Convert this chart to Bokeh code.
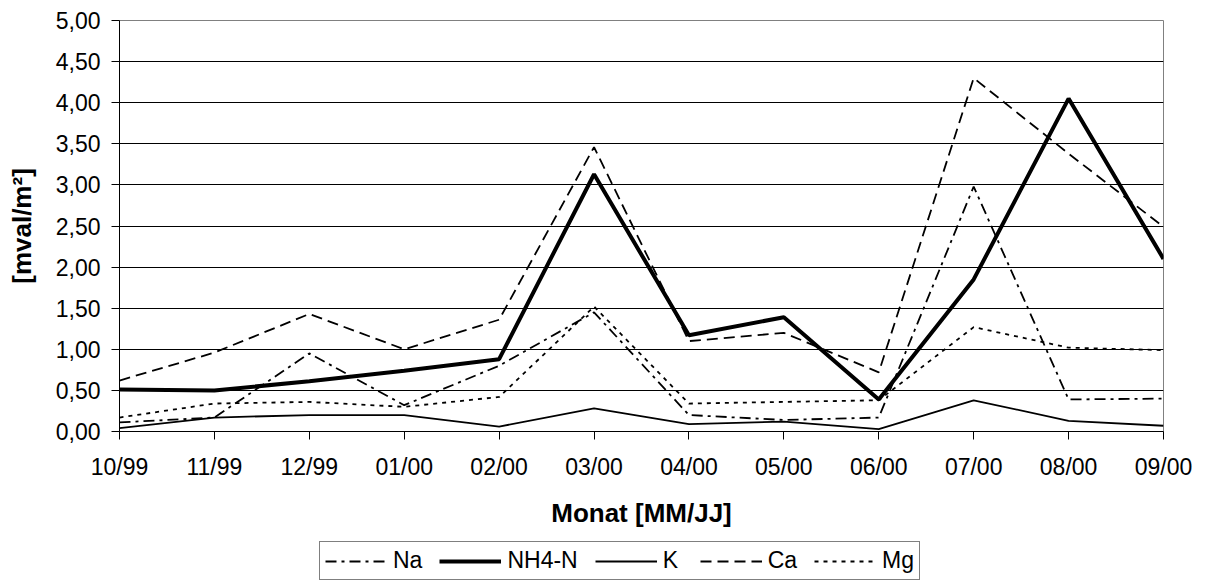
from bokeh.plotting import figure
from bokeh.layouts import column
from bokeh.models import FixedTicker, Legend, LegendItem, Range1d, ColumnDataSource
from bokeh.embed import file_html
from bokeh.resources import INLINE

months = ["10/99", "11/99", "12/99", "01/00", "02/00", "03/00",
          "04/00", "05/00", "06/00", "07/00", "08/00", "09/00"]
na  = [0.11, 0.17, 0.95, 0.32, 0.80, 1.45, 0.20, 0.14, 0.17, 2.98, 0.39, 0.40]
nh4 = [0.51, 0.50, 0.61, 0.74, 0.88, 3.13, 1.17, 1.39, 0.39, 1.85, 4.05, 2.10]
k   = [0.04, 0.17, 0.20, 0.20, 0.06, 0.28, 0.09, 0.12, 0.03, 0.38, 0.13, 0.07]
ca  = [0.62, 0.96, 1.43, 1.00, 1.36, 3.46, 1.10, 1.20, 0.72, 4.30, 3.38, 2.49]
mg  = [0.17, 0.34, 0.36, 0.30, 0.42, 1.52, 0.34, 0.36, 0.38, 1.27, 1.02, 0.99]
y_ticks = [0.0, 0.5, 1.0, 1.5, 2.0, 2.5, 3.0, 3.5, 4.0, 4.5, 5.0]
y_tick_labels = ["0,00", "0,50", "1,00", "1,50", "2,00", "2,50",
                 "3,00", "3,50", "4,00", "4,50", "5,00"]
series_names = ["Na", "NH4-N", "K", "Ca", "Mg"]

FONT = "Liberation Sans"
STYLES = {
    "Na": dict(line_width=1.8, line_dash="11 5 3 5"),
    "NH4-N": dict(line_width=4),
    "K": dict(line_width=1.8),
    "Ca": dict(line_width=1.8, line_dash="11 6"),
    "Mg": dict(line_width=1.8, line_dash="4 5"),
}

idx = list(range(len(months)))
src = ColumnDataSource(dict(x=idx, na=na, nh4=nh4, k=k, ca=ca, mg=mg))
cols = ["na", "nh4", "k", "ca", "mg"]

p = figure(width=1205, height=535, output_backend="svg", toolbar_location=None,
           x_range=Range1d(idx[0], idx[-1]), y_range=Range1d(y_ticks[0], y_ticks[-1]),
           min_border_left=119, min_border_right=42, min_border_top=20,
           min_border_bottom=104)
p.background_fill_color = "white"
p.border_fill_color = "white"
p.outline_line_color = "#808080"
p.outline_line_width = 1

p.xaxis.ticker = FixedTicker(ticks=idx)
p.xaxis.major_label_overrides = {i: m for i, m in zip(idx, months)}
p.yaxis.ticker = FixedTicker(ticks=y_ticks)
p.yaxis.major_label_overrides = {t: l for t, l in zip(y_ticks, y_tick_labels)}
for ax in (p.xaxis, p.yaxis):
    ax.axis_line_color = "black"
    ax.axis_line_width = 1
    ax.major_tick_line_color = "black"
    ax.major_tick_in = 0
    ax.major_tick_out = 8
    ax.minor_tick_line_color = None
    ax.major_label_text_font = FONT
    ax.major_label_text_font_size = "23px"
    ax.major_label_text_color = "black"
    ax.axis_label_text_font = FONT
    ax.axis_label_text_font_size = "26px"
    ax.axis_label_text_font_style = "bold"
    ax.axis_label_text_color = "black"
p.xaxis.axis_label = "Monat [MM/JJ]"
p.yaxis.axis_label = "[mval/m²]"
p.xaxis.major_label_standoff = 14
p.yaxis.major_label_standoff = 11
p.xaxis.axis_label_standoff = 15
p.yaxis.axis_label_standoff = 16

p.xgrid.grid_line_color = None
p.ygrid.ticker = FixedTicker(ticks=y_ticks[1:-1])
p.ygrid.grid_line_color = "black"
p.ygrid.grid_line_width = 1

for name, col in zip(series_names, cols):
    p.line("x", col, source=src, line_color="black", **STYLES[name])

# legend strip below the chart (its series lie outside its visible range)
lg = figure(width=1205, height=50, output_backend="svg", toolbar_location=None,
            x_range=Range1d(0, 1), y_range=Range1d(100, 101),
            min_border=0, min_border_left=119, min_border_right=42,
            min_border_top=0, min_border_bottom=0)
lg.axis.visible = False
lg.grid.visible = False
lg.outline_line_color = None
lg.background_fill_color = "white"
lg.border_fill_color = "white"
items = []
for name, col in zip(series_names, cols):
    r = lg.line("x", col, source=src, line_color="black", **STYLES[name])
    items.append(LegendItem(label=name, renderers=[r]))

legend = Legend(items=items, orientation="horizontal", location=(200, 5))
legend.label_text_font = FONT
legend.label_text_font_size = "23px"
legend.label_text_color = "black"
legend.glyph_width = 62
legend.glyph_height = 20
legend.label_height = 20
legend.label_standoff = 6
legend.spacing = 17
legend.padding = 5
legend.margin = 0
legend.border_line_color = "black"
legend.border_line_width = 1
legend.background_fill_color = "white"
legend.background_fill_alpha = 1
lg.add_layout(legend, "center")

layout = column(p, lg, spacing=0)
open("out.html", "w").write(file_html(layout, INLINE))
